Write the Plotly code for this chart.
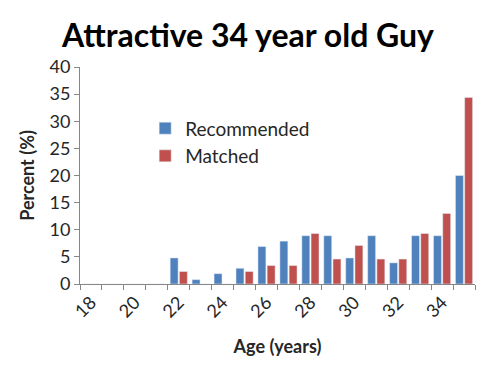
import plotly.graph_objects as go

ages = list(range(18, 36))
recommended = [0, 0, 0, 0, 4.8, 0.8, 1.9, 2.9, 6.9, 7.9, 8.9, 8.9, 4.8, 8.9, 3.9, 8.9, 8.9, 20.0]
matched = [0, 0, 0, 0, 2.3, 0, 0, 2.3, 3.4, 3.4, 9.3, 4.6, 7.1, 4.6, 4.6, 9.3, 13.0, 34.4]
x_tick_labels = [str(a) for a in range(18, 36, 2)]
y_ticks = list(range(0, 41, 5))

FONT = "Lato"
TXT = "#262626"
fig = go.Figure()
fig.add_trace(go.Bar(x=ages, y=recommended, name="Recommended", marker_color="#4F81BD",
                     legendgroup="a"))
fig.add_trace(go.Bar(x=ages, y=matched, name="Matched", marker_color="#C0504D",
                     legendgroup="b"))

# page body has an 8px offset; margins compensate so the plot lands where the reference has it
fig.update_layout(
    width=500, height=375,
    margin=dict(l=72, r=33, t=59, b=99, autoexpand=False),
    paper_bgcolor="white", plot_bgcolor="white",
    barmode="group", bargap=0.16, bargroupgap=0.14,
    font=dict(family=FONT, color=TXT, size=16),
    title=dict(text="<b>Attractive 34 year old Guy</b>", x=0.48, xanchor="center",
               y=0.925, yanchor="middle", font=dict(family=FONT, size=32, color="#000")),
    legend=dict(x=0.165, y=0.805, xanchor="left", yanchor="top", bgcolor="rgba(0,0,0,0)",
                font=dict(family=FONT, size=19, color=TXT), itemwidth=30, tracegroupgap=0),
    showlegend=True,
)
fig.update_xaxes(
    range=[17.5, 35.5], tickmode="array", tickvals=list(range(18, 36, 2)), ticktext=x_tick_labels,
    tickangle=-45, ticks="", showgrid=False, zeroline=False, automargin=False,
    showline=True, linecolor="#868686", linewidth=1,
    minor=dict(tickmode="linear", tick0=17.5, dtick=1, ticks="outside", ticklen=5,
               tickcolor="#868686", showgrid=False),
    tickfont=dict(size=18, color=TXT),
    title=dict(text="<b>Age (years)</b>", font=dict(size=18, color=TXT), standoff=19),
)
fig.update_yaxes(
    range=[0, 40], tickmode="array", tickvals=y_ticks, ticks="outside", ticklen=5,
    tickcolor="#868686", showgrid=False, zeroline=False, automargin=False,
    showline=True, linecolor="#868686", linewidth=1,
    tickfont=dict(size=18, color=TXT),
    title=dict(text="<b>Percent (%)</b>", font=dict(size=18, color=TXT), standoff=10),
)
fig.write_html("out.html")
